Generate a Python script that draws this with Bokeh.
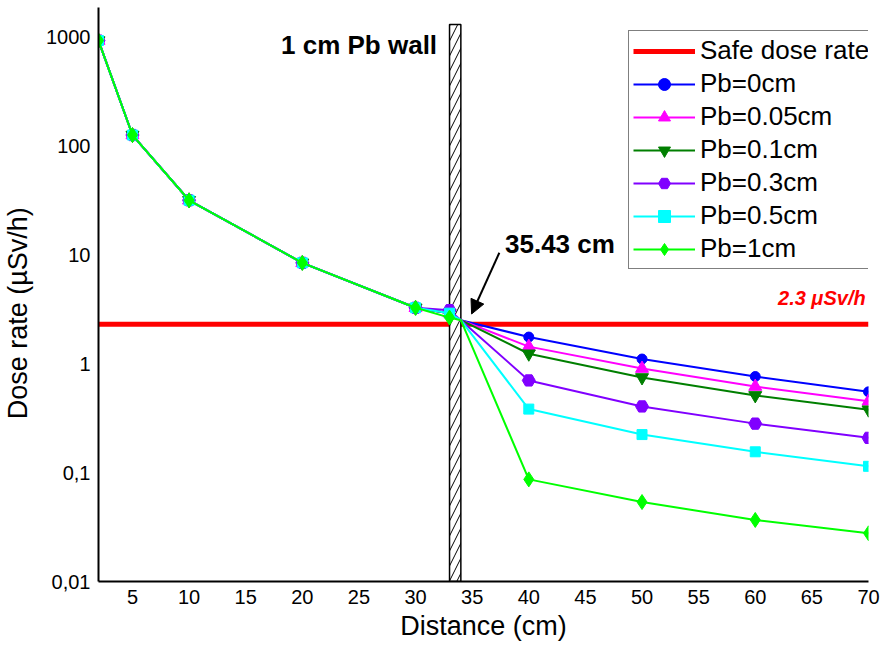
from bokeh.plotting import figure
from bokeh.models import (Range1d, FixedTicker, CustomJSTickFormatter, Arrow,
                          NormalHead, Label)
from bokeh.embed import file_html
from bokeh.resources import INLINE

# ---- data ----
distance = [2, 5, 10, 20, 30, 33, 34, 40, 50, 60, 70]
pb_0 = [920, 125, 31.5, 8.4, 3.25, 2.9, 2.5, 1.75, 1.10, 0.76, 0.55]
pb_005 = [920, 125, 31.5, 8.4, 3.25, 2.9, 2.5, 1.43, 0.90, 0.615, 0.45]
pb_01 = [920, 125, 31.5, 8.4, 3.25, 2.9, 2.5, 1.23, 0.745, 0.51, 0.377]
pb_03 = [920, 125, 31.5, 8.4, 3.25, 3.09, 2.5, 0.70, 0.404, 0.281, 0.208]
pb_05 = [920, 125, 31.5, 8.4, 3.25, 2.9, 2.5, 0.382, 0.223, 0.155, 0.114]
pb_1 = [920, 125, 31.5, 8.4, 3.25, 2.64, 2.5, 0.0865, 0.0536, 0.0367, 0.0277]
series_labels = ["Pb=0cm", "Pb=0.05cm", "Pb=0.1cm", "Pb=0.3cm", "Pb=0.5cm", "Pb=1cm"]
safe_dose = 2.3
wall_left, wall_right, wall_top = 33, 34, 1290
x_ticks = [5, 10, 15, 20, 25, 30, 35, 40, 45, 50, 55, 60, 65, 70]
y_ticks = [0.01, 0.1, 1, 10, 100, 1000]
crossing_label = "35.43 cm"

FONT = "Liberation Sans"

p = figure(width=881, height=646, output_backend="svg", toolbar_location=None,
           y_axis_type="log", x_range=Range1d(2, 70), y_range=Range1d(0.01, 1850),
           min_border_left=95, min_border_right=13, min_border_top=7,
           min_border_bottom=65)
p.outline_line_color = None
p.xgrid.visible = False
p.ygrid.visible = False
p.background_fill_color = "white"
p.border_fill_color = "white"

for ax in (p.xaxis, p.yaxis):
    ax.axis_line_width = 2
    ax.axis_line_color = "black"
    ax.major_tick_line_color = None
    ax.minor_tick_line_color = None
    ax.major_label_text_font = FONT
    ax.major_label_text_font_size = "20px"
    ax.major_label_text_color = "black"
    ax.axis_label_text_font = FONT
    ax.axis_label_text_font_size = "27px"
    ax.axis_label_text_font_style = "normal"
    ax.axis_label_text_color = "black"
    ax.major_label_standoff = 2

p.xaxis.ticker = FixedTicker(ticks=x_ticks, minor_ticks=[])
p.yaxis.ticker = FixedTicker(ticks=y_ticks, minor_ticks=[])
p.yaxis.formatter = CustomJSTickFormatter(
    code="return tick < 1 ? String(tick).replace('.', ',') : String(Math.round(tick));")
p.xaxis.axis_label = "Distance (cm)"
p.yaxis.axis_label = "Dose rate (µSv/h)" + "\u00a0" * 5
p.xaxis.axis_label_standoff = 4
p.yaxis.axis_label_standoff = 10

# safe dose line
p.line([distance[0], distance[-1]], [safe_dose, safe_dose], line_color="#FF0000",
       line_width=5, legend_label="Safe dose rate")

# wall
p.quad(left=[wall_left], right=[wall_right], bottom=[0.01], top=[wall_top],
       fill_color="white", line_color="black", line_width=1.5,
       hatch_pattern="/", hatch_color="black", hatch_weight=1, hatch_scale=15)

colors = ["#0000FF", "#FF00FF", "#007F00", "#8000FF", "#00FFFF", "#00FF00"]
markers = ["circle", "triangle", "inverted_triangle", "hex", "square", "diamond"]
sizes = [10, 13, 13, 13, 10, 15]
all_series = [pb_0, pb_005, pb_01, pb_03, pb_05, pb_1]

for ys, lab, c, m, s in zip(all_series, series_labels, colors, markers, sizes):
    p.line(distance, ys, line_color=c, line_width=2, legend_label=lab)
    mx = [d for d in distance if d != wall_right]
    my = [v for d, v in zip(distance, ys) if d != wall_right]
    p.scatter(mx, my, marker=m, size=s, fill_color=c, line_color=c, legend_label=lab)

# annotations
p.add_layout(Label(x=31.9, y=830, text="1 cm Pb wall", text_font=FONT,
                   text_font_size="26px", text_font_style="bold",
                   text_align="right", text_baseline="middle", text_color="black"))
p.add_layout(Label(x=37.9, y=12.5, text=crossing_label, text_font=FONT,
                   text_font_size="26px", text_font_style="bold",
                   text_align="left", text_baseline="middle", text_color="black"))
p.add_layout(Label(x=69.75, y=4.0, text="2.3 μSv/h", text_font=FONT,
                   text_font_size="20px", text_font_style="bold italic",
                   text_align="right", text_baseline="middle", text_color="#FF0000"))
p.add_layout(Arrow(end=NormalHead(size=14, fill_color="black", line_color="black"),
                   x_start=37.4, y_start=10.4, x_end=34.95, y_end=2.85,
                   line_width=2, line_color="black"))

lg = p.legend[0]
lg.location = (530, 312)
lg.margin = 0
lg.padding = 4
lg.spacing = 2
lg.glyph_width = 62
lg.glyph_height = 30
lg.label_height = 30
lg.label_standoff = 5
lg.label_text_font = FONT
lg.label_text_font_size = "26px"
lg.label_text_color = "black"
lg.border_line_color = "black"
lg.border_line_width = 1
lg.background_fill_alpha = 1

open("out.html", "w").write(file_html(p, INLINE))
